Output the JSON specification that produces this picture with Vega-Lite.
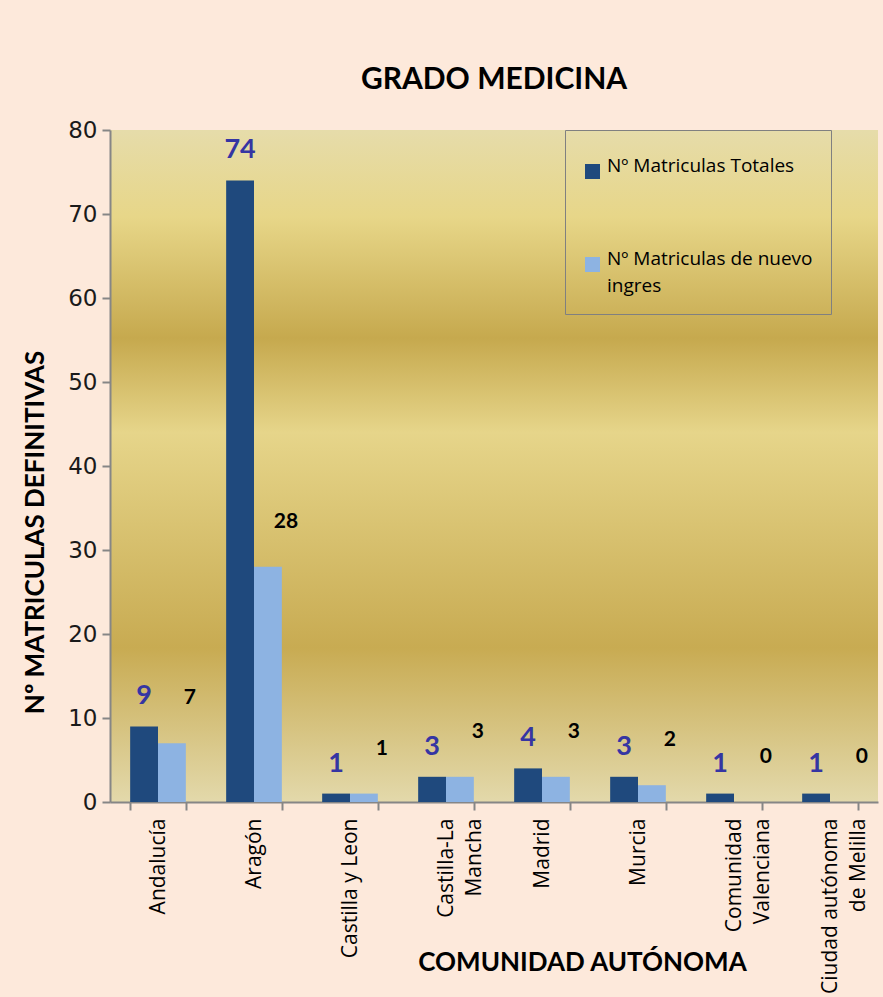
{
  "$schema": "https://vega.github.io/schema/vega-lite/v6.json",
  "width": 768,
  "height": 672,
  "autosize": {"type": "none"},
  "padding": {"left": 110, "top": 130, "right": 5, "bottom": 195},
  "background": "#fde9db",
  "title": {
    "text": "GRADO MEDICINA",
    "font": "Lato",
    "fontSize": 30,
    "fontWeight": "bold",
    "color": "#000000",
    "anchor": "middle",
    "offset": 24
  },
  "data": {
    "values": [
      {"comunidad": "Andalucía", "serie": "Nº Matriculas Totales", "valor": 9},
      {"comunidad": "Andalucía", "serie": "Nº Matriculas de nuevo ingres", "valor": 7},
      {"comunidad": "Aragón", "serie": "Nº Matriculas Totales", "valor": 74},
      {"comunidad": "Aragón", "serie": "Nº Matriculas de nuevo ingres", "valor": 28},
      {"comunidad": "Castilla y Leon", "serie": "Nº Matriculas Totales", "valor": 1},
      {"comunidad": "Castilla y Leon", "serie": "Nº Matriculas de nuevo ingres", "valor": 1},
      {"comunidad": "Castilla-La Mancha", "serie": "Nº Matriculas Totales", "valor": 3},
      {"comunidad": "Castilla-La Mancha", "serie": "Nº Matriculas de nuevo ingres", "valor": 3},
      {"comunidad": "Madrid", "serie": "Nº Matriculas Totales", "valor": 4},
      {"comunidad": "Madrid", "serie": "Nº Matriculas de nuevo ingres", "valor": 3},
      {"comunidad": "Murcia", "serie": "Nº Matriculas Totales", "valor": 3},
      {"comunidad": "Murcia", "serie": "Nº Matriculas de nuevo ingres", "valor": 2},
      {"comunidad": "Comunidad Valenciana", "serie": "Nº Matriculas Totales", "valor": 1},
      {"comunidad": "Comunidad Valenciana", "serie": "Nº Matriculas de nuevo ingres", "valor": 0},
      {"comunidad": "Ciudad autónoma de Melilla", "serie": "Nº Matriculas Totales", "valor": 1},
      {"comunidad": "Ciudad autónoma de Melilla", "serie": "Nº Matriculas de nuevo ingres", "valor": 0}
    ]
  },
  "encoding": {
    "x": {
      "field": "comunidad",
      "type": "nominal",
      "sort": null,
      "scale": {"paddingInner": 0.42, "paddingOuter": 0.21},
      "axis": {
        "title": "COMUNIDAD AUTÓNOMA",
        "titleFont": "Lato",
        "titleFontSize": 26,
        "titleFontWeight": "bold",
        "titleColor": "#000000",
        "titleX": 472,
        "titleY": 160,
        "titleAlign": "center",
        "titleBaseline": "middle",
        "labelAngle": -90,
        "labelAlign": "right",
        "labelBaseline": "middle",
        "labelFont": "Open Sans",
        "labelFontSize": 21,
        "labelColor": "#000000",
        "labelPadding": 8,
        "labelLineHeight": 28,
        "labelLimit": 300,
        "labelExpr": "datum.label == 'Castilla-La Mancha' ? ['Castilla-La', 'Mancha'] : datum.label == 'Comunidad Valenciana' ? ['Comunidad', 'Valenciana'] : datum.label == 'Ciudad autónoma de Melilla' ? ['Ciudad autónoma', 'de Melilla'] : datum.label",
        "tickBand": "extent",
        "tickSize": 8,
        "tickColor": "#868686",
        "tickWidth": 2,
        "domainColor": "#868686",
        "domainWidth": 2
      }
    },
    "xOffset": {"field": "serie", "type": "nominal", "sort": ["Nº Matriculas Totales", "Nº Matriculas de nuevo ingres"]},
    "y": {
      "field": "valor",
      "type": "quantitative",
      "scale": {"domain": [0, 80]},
      "axis": {
        "title": "Nº  MATRICULAS DEFINITIVAS",
        "titleFont": "Lato",
        "titleFontSize": 26,
        "titleFontWeight": "bold",
        "titleColor": "#000000",
        "titleAngle": -90,
        "titleX": -75,
        "titleY": 402,
        "titleAlign": "center",
        "titleBaseline": "middle",
        "values": [0, 10, 20, 30, 40, 50, 60, 70, 80],
        "labelFont": "DejaVu Sans",
        "labelFontSize": 23,
        "labelColor": "#1a1a1a",
        "labelPadding": 5,
        "tickSize": 8,
        "tickColor": "#868686",
        "tickWidth": 2,
        "domainColor": "#868686",
        "domainWidth": 2,
        "grid": false
      }
    }
  },
  "layer": [
    {
      "mark": {"type": "bar"},
      "encoding": {
        "color": {
          "field": "serie",
          "type": "nominal",
          "sort": ["Nº Matriculas Totales", "Nº Matriculas de nuevo ingres"],
          "scale": {"range": ["#1f497d", "#8db3e2"]},
          "legend": {
            "title": " ",
            "titleFontSize": 10,
            "titlePadding": 4,
            "orient": "none",
            "legendX": 455,
            "legendY": 0,
            "direction": "vertical",
            "strokeColor": "#808080",
            "padding": 18,
            "symbolType": "square",
            "symbolSize": 225,
            "symbolStrokeWidth": 0,
            "labelFont": "Open Sans",
            "labelFontSize": 19,
            "labelBaseline": "alphabetic",
            "labelColor": "#000000",
            "labelOffset": 5,
            "labelLimit": 300,
            "rowPadding": 70,
            "labelExpr": "datum.label == 'Nº Matriculas de nuevo ingres' ? ['Nº Matriculas de nuevo', 'ingres'] : datum.label"
          }
        }
      }
    },
    {
      "transform": [{"filter": "datum.serie == 'Nº Matriculas Totales'"}],
      "mark": {"type": "text", "baseline": "bottom", "dy": -16, "font": "Lato", "fontSize": 27, "fontWeight": "bold", "color": "#3535a3"},
      "encoding": {"text": {"field": "valor", "type": "quantitative"}}
    },
    {
      "transform": [{"filter": "datum.serie == 'Nº Matriculas de nuevo ingres'"}],
      "mark": {"type": "text", "baseline": "middle", "dy": -45, "dx": 18, "font": "Lato", "fontSize": 21, "fontWeight": "bold", "color": "#000000"},
      "encoding": {"text": {"field": "valor", "type": "quantitative"}}
    }
  ],
  "config": {
    "style": {"guide-label": {"lineHeight": 27}}
  },
  "view": {
    "stroke": null,
    "fill": {
      "gradient": "linear",
      "x1": 0, "y1": 0, "x2": 0, "y2": 1,
      "stops": [
        {"offset": 0, "color": "#e6dcaa"},
        {"offset": 0.13, "color": "#e7d688"},
        {"offset": 0.31, "color": "#c6a94e"},
        {"offset": 0.45, "color": "#e6d58a"},
        {"offset": 0.77, "color": "#c8ab52"},
        {"offset": 1, "color": "#e3d9ab"}
      ]
    }
  }
}
